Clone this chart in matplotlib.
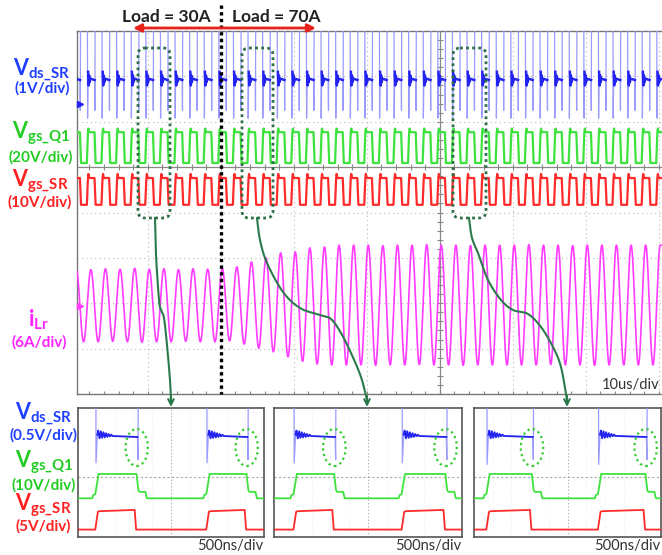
import numpy as np
import matplotlib
matplotlib.use('Agg')
import matplotlib.pyplot as plt
from matplotlib.patches import FancyBboxPatch, Ellipse

plt.rcParams['font.family'] = ['Lato', 'DejaVu Sans']
plt.rcParams['mathtext.fontset'] = 'custom'
plt.rcParams['mathtext.bf'] = 'Lato:bold'
plt.rcParams['mathtext.rm'] = 'Lato'
plt.rcParams['mathtext.it'] = 'Lato:italic'

W, H = 662, 555

# ---------------- data: main capture (10 us/div, vertical in divisions) ----------------
period_us = 2.0
first_peak_us = 0.2
load_step_us = 20.0
ilr_peaks = [2.75, 2.74, 2.76, 2.75, 2.77, 2.75, 2.76, 2.74, 2.76, 2.75,
             2.77, 2.80, 2.91, 3.00, 3.11, 3.13, 3.22, 3.24, 3.28, 3.28,
             3.28, 3.27, 3.28, 3.28, 3.29, 3.28, 3.28, 3.27, 3.28, 3.28,
             3.28, 3.29, 3.28, 3.28, 3.27, 3.28, 3.28, 3.28, 3.28, 3.28, 3.28]
ilr_troughs = [1.15, 1.15, 1.16, 1.15, 1.14, 1.15, 1.15, 1.16, 1.15, 1.15,
               1.17, 1.10, 1.01, 0.93, 0.82, 0.72, 0.66, 0.64, 0.64, 0.64,
               0.63, 0.64, 0.64, 0.65, 0.64, 0.64, 0.63, 0.64, 0.64, 0.64,
               0.64, 0.64, 0.65, 0.64, 0.64, 0.63, 0.64, 0.64, 0.64, 0.64]
on_offset_us = -0.45
off_offset_us = 0.55
vds_plateau, vds_on_dip, vds_off_dip, vds_clip = 6.92, 6.08, 6.25, 8.8
vds_ring = [0.18, -0.12, 0.10, -0.05, 0.03]
vgsq1_low, vgsq1_high = 5.09, 5.77
vgssr_low, vgssr_high = 4.17, 4.76
ch1_marker, ch4_marker = 6.39, 1.94

# ---------------- data: zoomed captures (500 ns/div) ----------------
panel_on_ns = [[484, 3468], [538, 3414], [350, 3333]]
panel_off_ns = [[1613, 4570], [1640, 4597], [1586, 4624]]
pv_plateau_start, pv_plateau_end = 6.35, 6.2
pv_on_dip = [4.6, 4.6, 4.5]
pv_off_dip = 4.8
pv_ring = [0.26, -0.22, 0.22, -0.18, 0.17, -0.14, 0.12, -0.10, 0.08, -0.06, 0.05, -0.03]
pg_low, pg_shoulder, pg_high = 2.4, 2.8, 3.91
pr_low, pr_high = 0.46, 1.68

C_BLUE_L, C_BLUE = '#9a9aff', '#2424f0'
C_GREEN, C_RED, C_MAG = '#3ee23e', '#ff2a2a', '#ff3cff'
L_BLUE, L_GREEN, L_RED, L_MAG = '#2040ff', '#22cc22', '#ff2020', '#ff22ff'
C_CONN = '#2b7a4b'

fig = plt.figure(figsize=(W / 100, H / 100), dpi=100)
fig.patch.set_facecolor('white')


def px_axes(x0, y0, x1, y1, z=1):
    return fig.add_axes([x0 / W, 1 - y1 / H, (x1 - x0) / W, (y1 - y0) / H], zorder=z)


# ================= main screen =================
ax = px_axes(77, 31, 662, 394)
xl0 = 0.3
ax.set_xlim(xl0, xl0 + 585 / 7.3)
ax.set_ylim(0, 8)
ax.set_xticks([]); ax.set_yticks([])
for s in ['left', 'top', 'bottom']:
    ax.spines[s].set_color('#777777'); ax.spines[s].set_linewidth(1.0)
ax.spines['right'].set_visible(False)
grid_kw = dict(color='#b8b8b8', lw=0.8, ls=(0, (1, 3)), zorder=0)
for gx in range(10, 90, 10):
    if gx != 50:
        ax.axvline(gx, **grid_kw)
for gy in range(1, 8):
    if gy != 5:
        ax.axhline(gy, **grid_kw)
ax.axvline(50, color='#888888', lw=0.9, zorder=0)
ax.axhline(5, color='#888888', lw=0.9, zorder=0)
ty = np.arange(0.2, 8, 0.2)
ax.plot(np.full_like(ty, 50), ty, ls='none', marker='_', ms=5, color='#888888', mew=0.8, zorder=0)
tx = np.arange(2, 81, 2)
ax.plot(tx, np.full_like(tx, 5.0), ls='none', marker='|', ms=5, color='#888888', mew=0.8, zorder=0)
ax.plot(tx, np.full_like(tx, 0.05), ls='none', marker='|', ms=5, color='#888888', mew=0.8, zorder=0)

# iLr
peak_t = first_peak_us + period_us * np.arange(len(ilr_peaks))
trough_t = peak_t[:-1] + period_us / 2
ext_t = np.empty(len(peak_t) + len(trough_t)); ext_v = np.empty_like(ext_t)
ext_t[0::2] = peak_t; ext_t[1::2] = trough_t
ext_v[0::2] = ilr_peaks; ext_v[1::2] = ilr_troughs
t = np.linspace(xl0, 80.5, 16000)
idx = np.clip(np.searchsorted(ext_t, t) - 1, 0, len(ext_t) - 2)
fr = np.clip((t - ext_t[idx]) / (ext_t[idx + 1] - ext_t[idx]), 0, 1)
ilr = ext_v[idx] + (ext_v[idx + 1] - ext_v[idx]) * (1 - np.cos(np.pi * fr)) / 2
ax.plot(t, ilr, color=C_MAG, lw=1.2, zorder=3)

# Vds_SR, Vgs_Q1, Vgs_SR
bt, bv, pt, pv, gt, gv, rt, rv = [], [], [], [], [], [], [], []
for p in peak_t:
    on, off = p + on_offset_us, p + off_offset_us
    st = [on - 0.03, on, on + 0.07, on + 0.14, on + 0.21, on + 0.28, on + 0.36, off - 0.03, off, off + 0.04]
    sv = [vds_clip, vds_on_dip] + [vds_plateau + r for r in vds_ring] + [vds_plateau, vds_off_dip, vds_clip]
    bt += st; bv += sv
    pt += st[2:8] + [np.nan]; pv += sv[2:8] + [np.nan]
    gt += [on - 0.1, on + 0.05, on + 0.12, on + 0.22, off - 0.05, off + 0.1]
    gv += [vgsq1_low, vgsq1_high, vgsq1_high + 0.08, vgsq1_high, vgsq1_high, vgsq1_low]
    rt += [on - 0.1, on + 0.05, on + 0.12, on + 0.22, off - 0.05, off + 0.1]
    rv += [vgssr_low, vgssr_high, vgssr_high + 0.09, vgssr_high, vgssr_high, vgssr_low]
ax.plot(bt, bv, color=C_BLUE_L, lw=0.9, zorder=3)
ax.plot(pt, pv, color=C_BLUE, lw=1.8, zorder=4)
ax.plot(gt, gv, color=C_GREEN, lw=1.6, zorder=3)
ax.plot(rt, rv, color=C_RED, lw=1.6, zorder=3)
ax.plot([xl0 + 0.45], [ch1_marker], marker='>', ms=4.5, color=C_BLUE, clip_on=False, zorder=5)
ax.plot([xl0 + 0.45], [ch4_marker], marker='>', ms=4.5, color=C_MAG, clip_on=False, zorder=5)

# ================= zoomed panels =================
panel_px = [(78, 264), (274, 462), (474, 661)]
for k, (x0, x1) in enumerate(panel_px):
    pa = px_axes(x0, 408, x1, 537)
    pa.set_xlim(0, 5000); pa.set_ylim(0, 8)
    pa.set_xticks([]); pa.set_yticks([])
    for s in pa.spines.values():
        s.set_color('#555555'); s.set_linewidth(1.2)
    for gx in range(500, 5000, 500):
        pa.axvline(gx, color='#e4e4e4', lw=0.6, ls=(0, (1, 3)), zorder=0)
    pa.axvline(2500, color='#aaaaaa', lw=0.8, ls=(0, (1, 2)), zorder=0)
    pa.axhline(3.73, color='#aaaaaa', lw=0.8, ls=(0, (2, 2)), zorder=0)
    qt, qv, dt, dv = [0], [vds_clip], [], []
    g_t, g_v = [0], [pg_low]
    r_t, r_v = [0], [pr_low]
    for on, off in zip(panel_on_ns[k], panel_off_ns[k]):
        ring_t = [on + 60 + 35 * i for i in range(len(pv_ring))]
        base = lambda tt: pv_plateau_start + (pv_plateau_end - pv_plateau_start) * (tt - on) / (off - on)
        st = [on - 3, on, on + 35] + ring_t + [off - 15, off, off + 6]
        sv = [vds_clip, pv_on_dip[k], base(on + 35)] + [base(tt) + r for tt, r in zip(ring_t, pv_ring)] + \
             [base(off - 15), pv_off_dip, vds_clip]
        qt += st; qv += sv
        dt += st[2:-2] + [np.nan]; dv += sv[2:-2] + [np.nan]
        g_t += [on - 100, on - 75, on - 20, on + 70, off - 40, off + 10, off + 40, off + 200, off + 240]
        g_v += [pg_low, pg_low + 0.2, pg_low + 0.25, pg_high, pg_high, pg_shoulder + 0.1, pg_shoulder,
                pg_shoulder, pg_low]
        r_t += [on - 20, on + 50, on + 90, off - 90, off - 50]
        r_v += [pr_low, pr_high - 0.12, pr_high - 0.08, pr_high, pr_low]
        pa.add_patch(Ellipse((off - 35, 5.55), 600, 2.3, fill=False, ec='#33cc33', lw=1.6,
                             ls=(0, (1, 1.5)), zorder=6))
    qt += [5000]; qv += [vds_clip]
    g_t += [5000]; g_v += [pg_low]
    r_t += [5000]; r_v += [pr_low]
    pa.plot(qt, qv, color=C_BLUE_L, lw=0.9, zorder=3)
    pa.plot(dt, dv, color=C_BLUE, lw=1.3, zorder=4)
    pa.plot(g_t, g_v, color=C_GREEN, lw=1.3, zorder=3)
    pa.plot(r_t, r_v, color=C_RED, lw=1.3, zorder=3)

# ================= annotation overlay (pixel coordinates) =================
an = fig.add_axes([0, 0, 1, 1], zorder=10)
an.set_xlim(0, W); an.set_ylim(H, 0); an.axis('off'); an.patch.set_alpha(0)

# load step line
an.plot([221, 221], [5, 394], color='black', lw=2.4, ls=(0, (1, 1)))
an.annotate('', xy=(133, 28), xytext=(221, 28),
            arrowprops=dict(arrowstyle='-|>', color='#e8221b', lw=2, mutation_scale=12, shrinkA=0, shrinkB=0))
an.annotate('', xy=(316, 28), xytext=(221, 28),
            arrowprops=dict(arrowstyle='-|>', color='#e8221b', lw=2, mutation_scale=12, shrinkA=0, shrinkB=0))
an.text(166, 22, 'Load = 30A', fontsize=12.5, fontweight='bold', color='#222222', ha='center', va='baseline')
an.text(276, 22, 'Load = 70A', fontsize=12.5, fontweight='bold', color='#222222', ha='center', va='baseline')

# dotted boxes
for bx0, bx1 in [(138, 170), (242, 273), (453, 486)]:
    an.add_patch(FancyBboxPatch((bx0, 48), bx1 - bx0, 170, boxstyle='round,pad=0,rounding_size=7',
                                fill=False, ec='#2e6e46', lw=2.0, ls=(0, (1, 1.2))))


def catmull(pts, n=20):
    p = np.asarray(pts, float)
    p = np.vstack([p[0], p, p[-1]])
    out = []
    for i in range(1, len(p) - 2):
        p0, p1, p2, p3 = p[i - 1], p[i], p[i + 1], p[i + 2]
        s = np.linspace(0, 1, n)[:, None]
        out.append(0.5 * ((2 * p1) + (-p0 + p2) * s + (2 * p0 - 5 * p1 + 4 * p2 - p3) * s ** 2 +
                          (-p0 + 3 * p1 - 3 * p2 + p3) * s ** 3))
    return np.vstack(out)


curves = [
    [(155, 218), (156, 255), (159, 300), (161, 310), (164, 318), (167, 345), (170, 380), (171, 400)],
    [(257, 218), (260, 240), (267, 263), (283, 292), (300, 308), (320, 315), (331, 319), (341, 333),
     (351, 353), (361, 377), (367, 400)],
    [(469, 218), (472, 238), (478, 253), (488, 280), (501, 300), (513, 310), (528, 314), (541, 327),
     (553, 347), (561, 367), (567, 400)],
]
for c in curves:
    cc = catmull(c)
    an.plot(cc[:, 0], cc[:, 1], color=C_CONN, lw=1.5)
    xe = c[-1][0]
    an.annotate('', xy=(xe, 407), xytext=(xe, 396),
                arrowprops=dict(arrowstyle='->', color=C_CONN, lw=1.5, mutation_scale=10, shrinkA=0, shrinkB=0))

# scale texts
an.text(659, 389, '10us/div', fontsize=10.5, color='#333333', ha='right', va='baseline')
for xr in [263, 461, 660]:
    an.text(xr, 550, '500ns/div', fontsize=10.5, color='#333333', ha='right', va='baseline')

# channel labels
def chan(x, yb, main, sub, ypb, scale, color):
    an.text(x, yb, r'$\mathbf{%s}_{\mathbf{%s}}$' % (main, sub), fontsize=15.5, color=color,
            ha='center', va='baseline')
    an.text(x, ypb, scale, fontsize=11, fontweight='bold', color=color, ha='center', va='baseline')


chan(42, 75, 'V', r'ds\_SR', 93, '(1V/div)', L_BLUE)
chan(41, 139, 'V', r'gs\_Q1', 162, '(20V/div)', L_GREEN)
chan(40, 187, 'V', r'gs\_SR', 207, '(10V/div)', L_RED)
chan(39, 327, 'i', r'Lr', 347, '(6A/div)', L_MAG)
chan(44, 419, 'V', r'ds\_SR', 440, '(0.5V/div)', L_BLUE)
chan(44, 468, 'V', r'gs\_Q1', 490, '(10V/div)', L_GREEN)
chan(43, 511, 'V', r'gs\_SR', 531, '(5V/div)', L_RED)

fig.savefig('out.png', dpi=100, facecolor='white')
